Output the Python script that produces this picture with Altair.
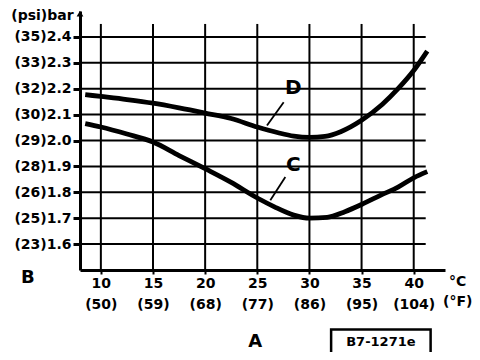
import altair as alt
import pandas as pd

# ---- data ----
temp_c = [10, 15, 20, 25, 30, 35, 40]
temp_f = [50, 59, 68, 77, 86, 95, 104]
bar_vals = [1.6, 1.7, 1.8, 1.9, 2.0, 2.1, 2.2, 2.3, 2.4]
psi_vals = [23, 25, 26, 28, 29, 30, 32, 33, 35]

d_temp = [8.5, 10, 12.5, 15, 17.5, 20, 22.5, 25, 27, 28.5, 30, 31.5, 33, 35, 37, 38.5, 40, 41.3]
d_bar = [2.177, 2.170, 2.158, 2.144, 2.126, 2.106, 2.085, 2.052, 2.030, 2.017, 2.012, 2.016,
         2.034, 2.078, 2.14, 2.20, 2.27, 2.345]
c_temp = [8.5, 10, 12.5, 15, 17.5, 20, 22.5, 25, 26.6, 28.5, 30, 31.7, 33.4, 35, 36.9, 38.5, 40, 41.3]
c_bar = [2.065, 2.052, 2.025, 1.994, 1.942, 1.891, 1.838, 1.778, 1.745, 1.712, 1.700, 1.703,
         1.725, 1.753, 1.79, 1.82, 1.856, 1.88]

FONT = "DejaVu Sans"
XD = [8, 43]
YD = [1.5, 2.5]

xs = alt.Scale(domain=XD, nice=False, zero=False)
ys = alt.Scale(domain=YD, nice=False, zero=False)

# axis label expressions built from the lists
bar_str = [f"{v:.1f}" for v in bar_vals]
ylab = [f"({p}){b}" for p, b in zip(psi_vals, bar_str)]
y_expr = ("[" + ",".join(f"'{s}'" for s in ylab) + "][indexof([" + ",".join(f"'{s}'" for s in bar_str)
          + "], format(datum.value, '.1f'))]")
x_expr = ("[format(datum.value, 'd'), '(' + [" + ",".join(str(f) for f in temp_f) + "][indexof(["
          + ",".join(str(c) for c in temp_c) + "], datum.value)] + ')']")

XAXIS = alt.Axis(
    values=temp_c, labelExpr=x_expr, title=None, grid=False,
    labelFont=FONT, labelFontWeight="bold", labelFontSize=14, labelColor="black",
    labelLineHeight=21, labelPadding=2, tickSize=4, tickWidth=2, tickColor="black",
    domainColor="black", domainWidth=3, labelFlush=False, labelOverlap=False)
YAXIS = alt.Axis(
    values=bar_vals, labelExpr=y_expr, title=None, grid=False,
    labelFont=FONT, labelFontWeight="bold", labelFontSize=14, labelColor="black",
    labelPadding=2, tickSize=7, tickWidth=3, tickColor="black",
    domainColor="black", domainWidth=3, labelFlush=False, labelOverlap=False)


def X(field):
    return alt.X(field, scale=xs, axis=XAXIS)


def Y(field):
    return alt.Y(field, scale=ys, axis=YAXIS)


# horizontal grid
hgrid = pd.DataFrame({"y": bar_vals, "x": [XD[0]] * len(bar_vals), "x2": [41.15] * len(bar_vals)})
base = alt.Chart(hgrid).mark_rule(color="black", strokeWidth=2).encode(
    x=X("x:Q"), x2="x2:Q", y=Y("y:Q"))

vgrid_df = pd.DataFrame({"x": temp_c, "y": [YD[0]] * len(temp_c), "y2": [2.45] * len(temp_c)})
vgrid = alt.Chart(vgrid_df).mark_rule(color="black", strokeWidth=2).encode(
    x=X("x:Q"), y=Y("y:Q"), y2="y2:Q")

curves_df = pd.concat([
    pd.DataFrame({"t": d_temp, "p": d_bar, "s": "D"}),
    pd.DataFrame({"t": c_temp, "p": c_bar, "s": "C"}),
])
curves = alt.Chart(curves_df).mark_line(color="black", strokeWidth=4.8, interpolate="monotone").encode(
    x=X("t:Q"), y=Y("p:Q"), detail="s:N")

leader_df = pd.DataFrame({"x": [27.53, 27.69], "y": [2.148, 1.859], "x2": [25.93, 26.25], "y2": [2.058, 1.769]})
leaders = alt.Chart(leader_df).mark_rule(color="black", strokeWidth=1.8).encode(
    x=X("x:Q"), y=Y("y:Q"), x2="x2:Q", y2="y2:Q")

curve_lbl = pd.DataFrame({"x": [28.46, 28.46], "y": [2.203, 1.904], "text": ["D", "C"]})
curve_text = alt.Chart(curve_lbl).mark_text(font=FONT, fontWeight="bold", fontSize=20, color="black",
                                            baseline="middle", align="center").encode(
    x=X("x:Q"), y=Y("y:Q"), text="text:N")

ann_df = pd.DataFrame({
    "x": [44.22, 44.22, 3.0, 24.81, 4.4],
    "y": [1.455, 1.375, 1.471, 1.2205, 2.482],
    "text": ["°C", "(°F)", "B", "A", "(psi)bar"],
    "size": [14, 14, 18, 18, 14],
})
ann = alt.Chart(ann_df).mark_text(font=FONT, fontWeight="bold", color="black",
                                  baseline="middle", align="center").encode(
    x=X("x:Q"), y=Y("y:Q"), text="text:N",
    size=alt.Size("size:Q", scale=None, legend=None))

box_df = pd.DataFrame({"x": [32.08], "x2": [41.62], "y": [1.2705], "y2": [1.178],
                       "tx": [36.85], "ty": [1.2235], "text": ["B7-1271e"]})
box = alt.Chart(box_df).mark_rect(fill="white", stroke="black", strokeWidth=2.5).encode(
    x=X("x:Q"), x2="x2:Q", y=Y("y:Q"), y2="y2:Q")
box_text = alt.Chart(box_df).mark_text(font=FONT, fontWeight="bold", fontSize=13, color="black",
                                       baseline="middle", align="center").encode(
    x=X("tx:Q"), y=Y("ty:Q"), text="text:N")

arrow_df = pd.DataFrame({"x": [8], "y": [2.49]})
arrow = alt.Chart(arrow_df).mark_point(shape="triangle-up", filled=True, color="black", size=45, opacity=1).encode(
    x=X("x:Q"), y=Y("y:Q"))

chart = alt.layer(base, vgrid, curves, leaders, curve_text, ann, box, box_text, arrow).properties(
    width=365, height=259, autosize="none",
    padding={"left": 72, "top": 3, "right": 27, "bottom": 82},
    background="white",
).configure_view(stroke=None).configure_axis(labelOverlap=False)

chart.save("out.html", embed_options={"renderer": "svg", "actions": False})
